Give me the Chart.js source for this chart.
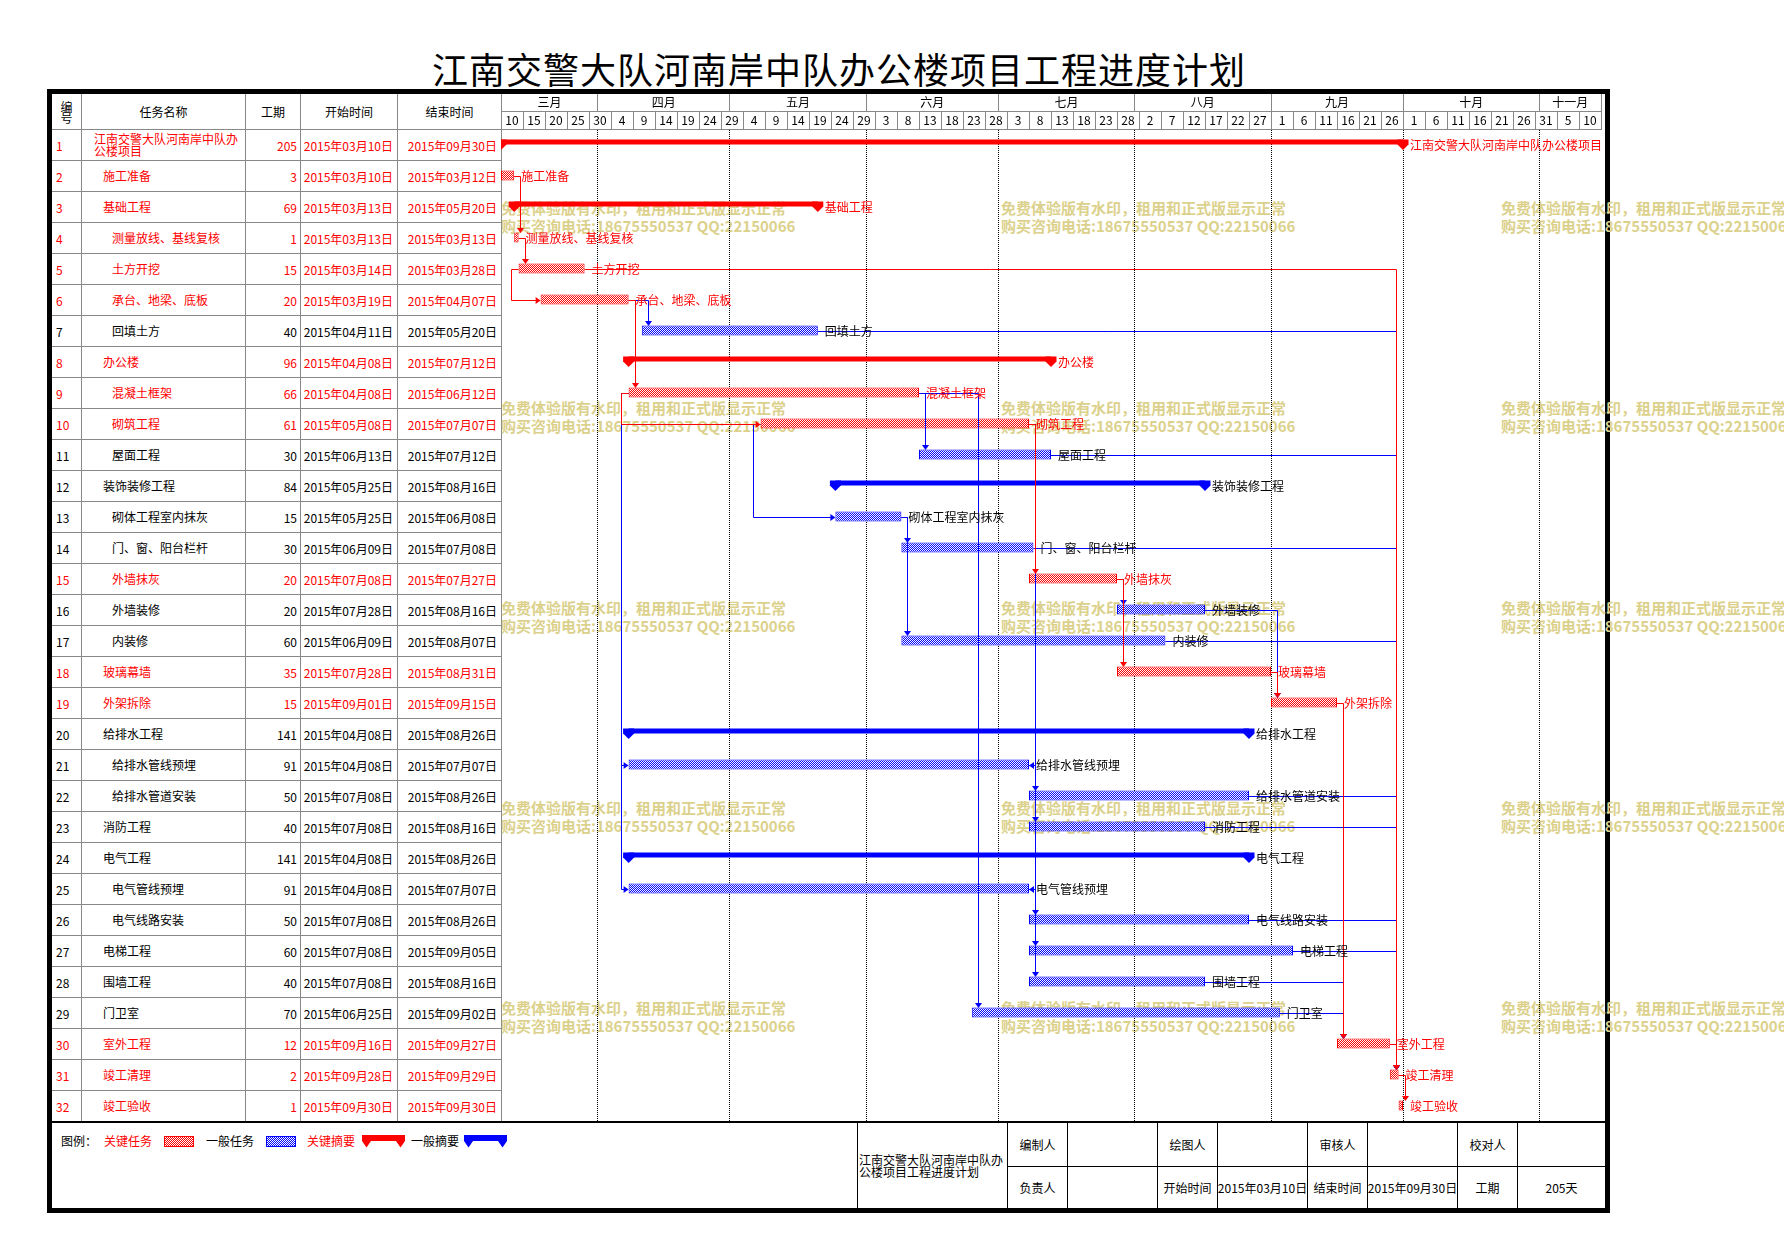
<!DOCTYPE html>
<html>
<head>
<meta charset="utf-8">
<script src="https://cdn.jsdelivr.net/npm/chart.js@4.4.0/dist/chart.umd.min.js"></script>
<style>
html,body{margin:0;padding:0;background:#fff;}
body{width:1784px;height:1260px;position:relative;overflow:hidden;font-family:"Noto Sans CJK SC","Noto Sans",sans-serif;font-size:12px;color:#000;}
#title{position:absolute;left:0;top:46px;width:1678px;text-align:center;font-size:36px;line-height:44px;letter-spacing:1px;white-space:nowrap;}
#frame{position:absolute;left:47px;top:89px;width:1563px;height:1124px;border:5px solid #000;box-sizing:border-box;}
.cell{position:absolute;box-sizing:border-box;border-right:1px solid #888;border-bottom:1px solid #888;display:flex;align-items:center;white-space:nowrap;overflow:hidden;line-height:13px;}
.hd{justify-content:center;text-align:center;}
.num{padding-left:4px;}
.dur{justify-content:flex-end;padding-right:3px;}
.date{justify-content:flex-end;padding-right:4px;}
.red{color:#f00;}
.wm{position:absolute;color:#dcd18c;font-weight:bold;font-size:15px;line-height:17.5px;white-space:nowrap;}
#gantt{position:absolute;left:501px;top:94px;}
.ft{position:absolute;white-space:nowrap;line-height:14px;}
.fl{position:absolute;background:#000;}
.fc{position:absolute;display:flex;align-items:center;justify-content:center;white-space:nowrap;}
.box{position:absolute;box-sizing:border-box;width:30px;height:11px;background-size:2px 2px;}
</style>
</head>
<body>
<div id="title">江南交警大队河南岸中队办公楼项目工程进度计划</div>
<div id="frame"></div>
<div id="table"></div>
<div id="wms"></div>
<canvas id="gantt" width="1104" height="1028"></canvas>
<div id="footer"></div>
<script>
// ---------------- DATA ----------------
const taskNames = ['江南交警大队河南岸中队办公楼项目','施工准备','基础工程','测量放线、基线复核','土方开挖','承台、地梁、底板','回填土方','办公楼','混凝土框架','砌筑工程','屋面工程','装饰装修工程','砌体工程室内抹灰','门、窗、阳台栏杆','外墙抹灰','外墙装修','内装修','玻璃幕墙','外架拆除','给排水工程','给排水管线预埋','给排水管道安装','消防工程','电气工程','电气管线预埋','电气线路安装','电梯工程','围墙工程','门卫室','室外工程','竣工清理','竣工验收'];
const levels    = [0,1,1,2,2,2,2,1,2,2,2,1,2,2,2,2,2,1,1,1,2,2,1,1,2,2,1,1,1,1,1,1];
const durations = [205,3,69,1,15,20,40,96,66,61,30,84,15,30,20,20,60,35,15,141,91,50,40,141,91,50,60,40,70,12,2,1];
const startDates = ['2015年03月10日','2015年03月10日','2015年03月13日','2015年03月13日','2015年03月14日','2015年03月19日','2015年04月11日','2015年04月08日','2015年04月08日','2015年05月08日','2015年06月13日','2015年05月25日','2015年05月25日','2015年06月09日','2015年07月08日','2015年07月28日','2015年06月09日','2015年07月28日','2015年09月01日','2015年04月08日','2015年04月08日','2015年07月08日','2015年07月08日','2015年04月08日','2015年04月08日','2015年07月08日','2015年07月08日','2015年07月08日','2015年06月25日','2015年09月16日','2015年09月28日','2015年09月30日'];
const endDates = ['2015年09月30日','2015年03月12日','2015年05月20日','2015年03月13日','2015年03月28日','2015年04月07日','2015年05月20日','2015年07月12日','2015年06月12日','2015年07月07日','2015年07月12日','2015年08月16日','2015年06月08日','2015年07月08日','2015年07月27日','2015年08月16日','2015年08月07日','2015年08月31日','2015年09月15日','2015年08月26日','2015年07月07日','2015年08月26日','2015年08月16日','2015年08月26日','2015年07月07日','2015年08月26日','2015年09月05日','2015年08月16日','2015年09月02日','2015年09月27日','2015年09月29日','2015年09月30日'];
const critical  = [1,1,1,1,1,1,0,1,1,1,0,0,0,0,1,0,0,1,1,0,0,0,0,0,0,0,0,0,0,1,1,1];
const summary   = [1,0,1,0,0,0,0,1,0,0,0,1,0,0,0,0,0,0,0,1,0,0,0,1,0,0,0,0,0,0,0,0];
// links: [predecessor row, successor row, type]
const linksFS = [[2,4],[4,5],[5,31],[6,7],[6,9],[7,31],[9,11],[9,29],[10,15],[11,31],[13,14],[13,17],[14,31],[15,16],[15,18],[16,19],[17,31],[18,19],[19,30],[21,22],[21,23],[22,31],[23,31],[25,26],[25,27],[25,28],[26,31],[27,31],[28,30],[29,30],[30,31],[31,32]];
const linksSS = [[5,6],[9,10],[9,21],[9,25],[10,13]];
const linksFF = [[10,21],[10,25]];
// timeline header
const monthLabels = ['三月','四月','五月','六月','七月','八月','九月','十月','十一月'];
const monthBoundDates = ['2015年03月10日','2015年04月01日','2015年05月01日','2015年06月01日','2015年07月01日','2015年08月01日','2015年09月01日','2015年10月01日','2015年11月01日','2015年11月15日'];
const dayLabels = ['10','15','20','25','30','4','9','14','19','24','29','4','9','14','19','24','29','3','8','13','18','23','28','3','8','13','18','23','28','2','7','12','17','22','27','1','6','11','16','21','26','1','6','11','16','21','26','31','5','10'];
const footerInfo = {name:'江南交警大队河南岸中队办公楼项目工程进度计划', start:'2015年03月10日', end:'2015年09月30日', total:'205天'};
const watermark1 = '免费体验版有水印，租用和正式版显示正常';
const watermark2 = '购买咨询电话:18675550537 QQ:22150066';

// ---------------- HELPERS ----------------
const FONT = '"Noto Sans CJK SC","Noto Sans",sans-serif';
const RED = '#ff0000', BLUE = '#0000ff', GRAY = '#888888';
const T0 = Date.UTC(2015,2,10);
function dayOf(s){ const m = s.match(/(\d+)年(\d+)月(\d+)日/); return (Date.UTC(+m[1], +m[2]-1, +m[3]) - T0)/86400000; }
const startDay = startDates.map(dayOf);
const endDay = endDates.map(s => dayOf(s) + 1);
const taskData = startDay.map((s,i) => summary[i] ? null : [s, endDay[i]]);
const summaryData = startDay.map((s,i) => summary[i] ? [s, endDay[i]] : null);
const monthBounds = monthBoundDates.map(dayOf);
const monthCenters = monthLabels.map((_,k) => (monthBounds[k] + monthBounds[k+1]) / 2);
const monthTicks = monthBounds.map(v => ({v, lab:''})).concat(monthCenters.map((v,k)=>({v, lab:monthLabels[k]}))).sort((a,b)=>a.v-b.v);
const dayTickValues = dayLabels.map((_,k) => 2.5 + 5*k);
const axisMax = monthBounds[monthBounds.length-1];

// ---------------- TABLE ----------------
const table = document.getElementById('table');
const colEdges = [52,82,246,301,398,502];
function mk(parent, cls, l, t, w, h, html, extra){
  const d = document.createElement('div');
  d.className = cls; d.style.left = l+'px'; d.style.top = t+'px'; d.style.width = w+'px'; d.style.height = h+'px';
  if (extra) Object.assign(d.style, extra);
  d.innerHTML = html; parent.appendChild(d); return d;
}
const heads = ['编<br>号','任务名称','工期','开始时间','结束时间'];
heads.forEach((h,c) => mk(table, 'cell hd', colEdges[c], 94, colEdges[c+1]-colEdges[c], 36, h, c===0?{lineHeight:'11px'}:null));
taskNames.forEach((name,i) => {
  const top = 130 + 31*i, red = critical[i] ? ' red' : '';
  mk(table, 'cell num'+red, colEdges[0], top, colEdges[1]-colEdges[0], 31, String(i+1));
  mk(table, 'cell'+red, colEdges[1], top, colEdges[2]-colEdges[1], 31, name,
     {paddingLeft:(12 + 9*levels[i])+'px', whiteSpace: i===0?'normal':'nowrap', wordBreak:'break-all', lineHeight:'12.5px'});
  mk(table, 'cell dur'+red, colEdges[2], top, colEdges[3]-colEdges[2], 31, String(durations[i]));
  mk(table, 'cell date'+red, colEdges[3], top, colEdges[4]-colEdges[3], 31, startDates[i]);
  mk(table, 'cell date'+red, colEdges[4], top, colEdges[5]-colEdges[4], 31, endDates[i]);
});

// ---------------- WATERMARKS ----------------
const wms = document.getElementById('wms');
for (let r=0;r<5;r++) for (let c=0;c<3;c++) {
  mk(wms, 'wm', 501 + 500*c, 199 + 200*r, 300, 36, watermark1 + '<br>' + watermark2, {width:'auto'});
}

// ---------------- FOOTER ----------------
const ft = document.getElementById('footer');
mk(ft, 'fl', 52, 1121, 1553, 2, '');
function ftxt(x, txt, color){ mk(ft, 'ft', x, 1134, 80, 14, txt, {width:'auto', color: color||'#000'}); }
ftxt(61, '图例：'); ftxt(104, '关键任务', RED); ftxt(206, '一般任务'); ftxt(307, '关键摘要', RED); ftxt(411, '一般摘要');
mk(ft, 'box', 164, 1136, 30, 11, '', {border:'1px solid '+RED, backgroundImage:'repeating-conic-gradient(#ff0000 0% 25%, #ffffff 0% 50%)'});
mk(ft, 'box', 266, 1136, 30, 11, '', {border:'1px solid '+BLUE, backgroundImage:'repeating-conic-gradient(#0000ff 0% 25%, #ffffff 0% 50%)'});
function sumShape(x, color){
  mk(ft, 'ft', x, 1135, 43, 13, '<svg width="43" height="13" viewBox="0 0 43 13"><polygon fill="'+color+'" points="0,0 43,0 43,6 38.5,12.5 34,6 9,6 4.5,12.5 0,6"/></svg>', {lineHeight:'0'});
}
sumShape(362, RED); sumShape(464, BLUE);
// footer info table lines
[857,1007,1067,1157,1217,1307,1367,1457,1517].forEach(x => mk(ft, 'fl', x, 1123, 1, 85, ''));
mk(ft, 'fl', 1007, 1166, 598, 1, '');
function fcell(l, r, t, b, txt){ mk(ft, 'fc', l+1, t, r-l-1, b-t, txt); }
fcell(1007,1067,1123,1166,'编制人'); fcell(1157,1217,1123,1166,'绘图人'); fcell(1307,1367,1123,1166,'审核人'); fcell(1457,1517,1123,1166,'校对人');
fcell(1007,1067,1166,1208,'负责人'); fcell(1157,1217,1166,1208,'开始时间'); fcell(1217,1307,1166,1208,footerInfo.start);
fcell(1307,1367,1166,1208,'结束时间'); fcell(1367,1457,1166,1208,footerInfo.end); fcell(1457,1517,1166,1208,'工期'); fcell(1517,1605,1166,1208,footerInfo.total);
mk(ft, 'fc', 859, 1123, 148, 85, footerInfo.name, {whiteSpace:'normal', wordBreak:'break-all', justifyContent:'flex-start', lineHeight:'12px'});

// ---------------- CHART ----------------
function hatch(color){
  const c = document.createElement('canvas'); c.width = 2; c.height = 2;
  const g = c.getContext('2d'); g.fillStyle = '#fff'; g.fillRect(0,0,2,2);
  g.fillStyle = color; g.fillRect(0,0,1,1); g.fillRect(1,1,1,1);
  return g.createPattern(c, 'repeat');
}
const redHatch = hatch(RED), blueHatch = hatch(BLUE);
const interior = monthBounds.slice(1, -1);

const ganttExtras = {
  id: 'ganttExtras',
  afterDatasetsDraw(chart){
    const {ctx, scales:{x, y}} = chart;
    const X = v => x.getPixelForValue(v);
    const Y = i => y.getPixelForValue(i);
    const R = v => Math.round(v) + 0.5;
    ctx.save();
    // summary end markers
    chart.getDatasetMeta(0).data.forEach((el, i) => {
      if (!summaryData[i]) return;
      const top = el.y - el.height/2, bot = el.y + el.height/2;
      ctx.fillStyle = critical[i] ? RED : BLUE;
      [el.base, el.x].forEach(p => {
        ctx.beginPath(); ctx.moveTo(p-5.5, top); ctx.lineTo(p+5.5, top); ctx.lineTo(p+5.5, bot);
        ctx.lineTo(p, bot+5.5); ctx.lineTo(p-5.5, bot); ctx.closePath(); ctx.fill();
      });
    });
    // links
    const all = [];
    linksFS.forEach(l => all.push([l[0]-1, l[1]-1, 'FS']));
    linksSS.forEach(l => all.push([l[0]-1, l[1]-1, 'SS']));
    linksFF.forEach(l => all.push([l[0]-1, l[1]-1, 'FF']));
    const isRed = l => critical[l[0]] && critical[l[1]];
    const ordered = all.filter(l => !isRed(l)).concat(all.filter(isRed));
    ctx.lineWidth = 1;
    const line = pts => { ctx.beginPath(); ctx.moveTo(pts[0][0], pts[0][1]); for (let k=1;k<pts.length;k++) ctx.lineTo(pts[k][0], pts[k][1]); ctx.stroke(); };
    const tri = pts => { ctx.beginPath(); ctx.moveTo(pts[0][0],pts[0][1]); ctx.lineTo(pts[1][0],pts[1][1]); ctx.lineTo(pts[2][0],pts[2][1]); ctx.closePath(); ctx.fill(); };
    ordered.forEach(l => {
      const [p, s, type] = l;
      const col = isRed(l) ? RED : BLUE;
      ctx.strokeStyle = col; ctx.fillStyle = col;
      const yp = R(Y(p)), ys = R(Y(s));
      if (type === 'FS') {
        const xe = X(endDay[p]), xa = R(Math.max(xe, X(startDay[s])) + 6);
        const yt = Math.round(Y(s) - 5);
        line([[xe, yp],[xa, yp],[xa, yt-4]]);
        tri([[xa-3.5, yt-5],[xa+3.5, yt-5],[xa, yt]]);
      } else if (type === 'SS') {
        const xp = X(startDay[p]), xs = X(startDay[s]);
        const xl = R(Math.min(xp, xs) - 8);
        line([[xp, yp],[xl, yp],[xl, ys],[xs-4, ys]]);
        tri([[xs-5, ys-3.5],[xs-5, ys+3.5],[xs, ys]]);
      } else {
        const xe = X(endDay[p]), xf = X(endDay[s]);
        const xr = R(Math.max(xe, xf) + 6);
        line([[xe, yp],[xr, yp],[xr, ys],[xf+4, ys]]);
        tri([[xf+5, ys-3.5],[xf+5, ys+3.5],[xf, ys]]);
      }
    });
    // labels
    ctx.font = '12px ' + FONT; ctx.textBaseline = 'middle'; ctx.textAlign = 'left';
    taskNames.forEach((name, i) => {
      ctx.fillStyle = critical[i] ? RED : '#000';
      ctx.fillText(name, X(endDay[i]) + 7, Y(i) + 0.5);
    });
    ctx.restore();
  }
};

Chart.defaults.font.family = FONT;
new Chart(document.getElementById('gantt'), {
  type: 'bar',
  data: {
    labels: taskNames,
    datasets: [
      { label: '摘要', data: summaryData, stack: 's', grouped: true, barThickness: 5,
        backgroundColor: critical.map(c => c ? RED : BLUE), borderWidth: 0, inflateAmount: 0 },
      { label: '_', data: taskNames.map(() => null), stack: 'd', grouped: true, barThickness: 5 },
      { label: '任务', data: taskData, grouped: false, barThickness: 10,
        backgroundColor: critical.map(c => c ? redHatch : blueHatch),
        borderColor: critical.map(c => c ? RED : BLUE), borderWidth: 1, borderSkipped: false, inflateAmount: 0 }
    ]
  },
  options: {
    indexAxis: 'y', responsive: false, animation: false, devicePixelRatio: 1,
    layout: { padding: { left: 0, right: 4, top: 0, bottom: 1 } },
    plugins: { legend: { display: false }, tooltip: { enabled: false } },
    scales: {
      x: {
        type: 'linear', position: 'top', min: 0, max: axisMax, bounds: 'data', weight: 0,
        afterBuildTicks: s => { s.ticks = dayTickValues.map(v => ({ value: v })); },
        afterFit: s => { s.height = 18; },
        ticks: { autoSkip: false, maxRotation: 0, minRotation: 0, padding: -16.2, color: '#000',
                 font: { size: 12, family: FONT }, callback: (v, i) => dayLabels[i] },
        grid: { offset: true, drawOnChartArea: false, drawTicks: true, tickLength: 18, color: GRAY, tickColor: GRAY, lineWidth: 1 },
        border: { display: true, color: GRAY, width: 1 }
      },
      xm: {
        type: 'linear', axis: 'x', position: 'top', min: 0, max: axisMax, bounds: 'data', weight: 1,
        afterBuildTicks: s => { s.ticks = monthTicks.map(t => ({ value: t.v })); },
        afterFit: s => { s.height = 17; },
        ticks: { autoSkip: false, maxRotation: 0, minRotation: 0, padding: -15.7, color: '#000',
                 font: { size: 12, family: FONT }, callback: (v, i) => monthTicks[i].lab },
        grid: { offset: false, drawOnChartArea: true, drawTicks: true, tickLength: 17, lineWidth: 1,
                color: c => (c.tick && interior.includes(c.tick.value)) ? '#000' : 'rgba(0,0,0,0)',
                tickColor: c => (c.tick && monthBounds.includes(c.tick.value)) ? GRAY : 'rgba(0,0,0,0)' },
        border: { display: true, color: GRAY, width: 1, dash: c => c.type === 'tick' ? [1,1] : [] }
      },
      y: { type: 'category', display: false, offset: true, grid: { display: false } }
    }
  },
  plugins: [ganttExtras]
});
</script>
</body>
</html>
